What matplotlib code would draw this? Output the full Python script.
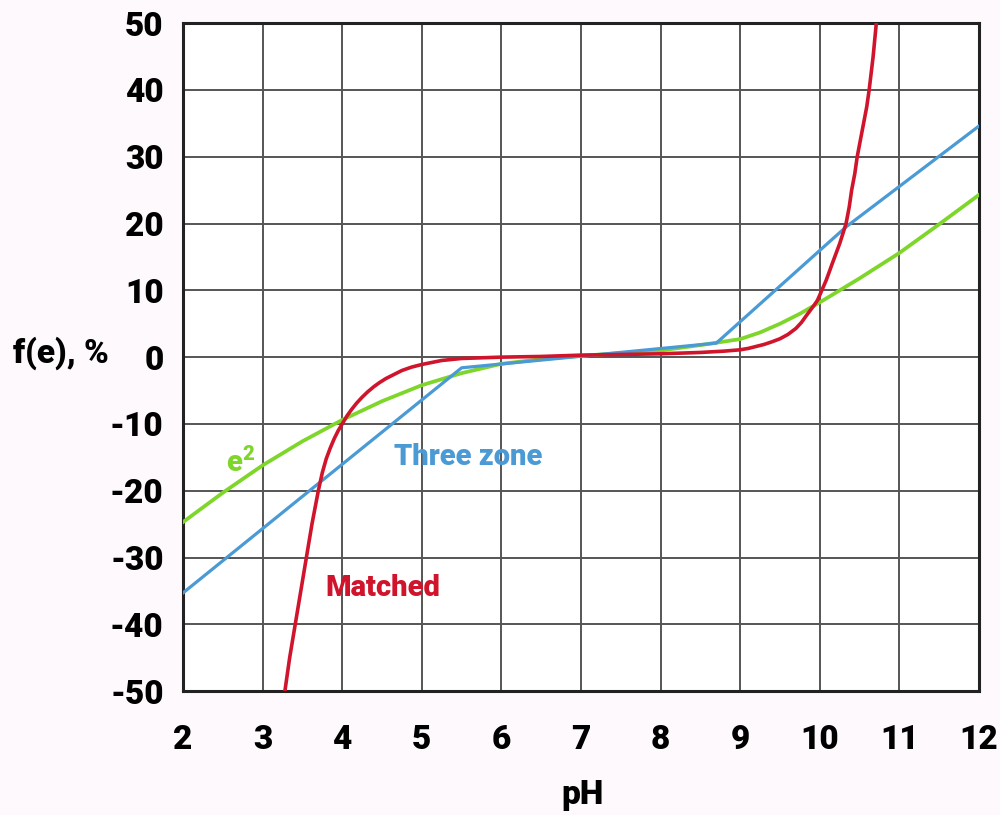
import matplotlib.pyplot as plt
import numpy as np

plt.rcParams['axes.unicode_minus'] = False

# Values (pH vs f(e), %)
three_zone_ph = [2.0, 5.5, 8.7, 10.33, 12.0]
three_zone_f = [-35.3, -1.6, 2.1, 19.5, 34.6]

e2_ph = [2, 2.5, 3, 3.5, 4, 4.5, 5, 5.5, 6, 6.5, 7, 7.5, 8, 8.5, 9, 9.25, 9.5, 9.75,
         10, 10.25, 10.5, 11, 11.5, 12]
e2_f = [-24.7, -20.3, -16.2, -12.6, -9.4, -6.6, -4.2, -2.4, -1.0, -0.3, 0.2, 0.6, 1.0,
        1.8, 2.7, 3.7, 5.0, 6.5, 8.2, 10.0, 11.8, 15.6, 19.9, 24.3]

matched_ph = [3.28, 3.34, 3.41, 3.48, 3.55, 3.62, 3.70, 3.75, 3.80, 3.85, 3.90, 3.95,
              4.00, 4.06, 4.12, 4.18, 4.25, 4.32, 4.40, 4.47, 4.55, 4.65, 4.75, 4.87,
              5.00, 5.25, 5.50, 6.00, 6.50, 7.00, 7.50, 8.00, 8.50, 8.80, 9.00, 9.10,
              9.20, 9.30, 9.40, 9.50, 9.60, 9.70, 9.77, 9.83, 9.88, 9.93, 9.97, 10.00,
              10.04, 10.08, 10.12, 10.15, 10.20, 10.25, 10.29, 10.33, 10.37, 10.40,
              10.44, 10.47, 10.51, 10.55, 10.59, 10.62, 10.67, 10.71]
matched_f = [-50, -45, -40, -35, -30, -25, -20, -17.3, -15.2, -13.6, -12.2, -11.0,
             -10, -8.8, -7.8, -6.9, -6.0, -5.2, -4.4, -3.8, -3.2, -2.6, -2.0, -1.5,
             -1.1, -0.5, -0.2, 0.0, 0.1, 0.3, 0.4, 0.5, 0.7, 0.9, 1.1, 1.3,
             1.6, 1.9, 2.3, 2.75, 3.4, 4.3, 5.2, 6.2, 7.0, 7.8, 8.5, 9.3,
             10.4, 11.5, 12.8, 13.8, 15.4, 17.0, 18.5, 20.0, 22.5, 25.0,
             27.5, 30.0, 32.5, 35.0, 37.5, 40.0, 45.0, 50.0]

x_ticks = list(range(2, 13))
y_ticks = list(range(-50, 51, 10))

red = '#d0142c'
blue = '#4a9ad6'
green = '#7fd62a'
font = ['Roboto', 'DejaVu Sans']

fig = plt.figure(figsize=(10, 8.15), dpi=100)
fig.patch.set_facecolor('#fdf9fc')
ax = fig.add_axes((0.183, 0.152, 0.796, 0.8196))
ax.set_facecolor('white')

# Curves
ax.plot(e2_ph, e2_f, color=green, lw=2.7, zorder=3, solid_joinstyle='round')
ax.plot(three_zone_ph, three_zone_f, color=blue, lw=2.3, zorder=4)
ax.plot(matched_ph, matched_f, color=red, lw=2.6, zorder=5, solid_joinstyle='round')

# Curve labels
ax.text(5.58, -15.0, 'Three zone', color=blue, fontsize=21, fontweight='heavy',
        family=font, ha='center', va='center')
ax.text(4.51, -34.6, 'Matched', color=red, fontsize=21, fontweight='heavy',
        family=font, ha='center', va='center')
ax.text(2.72, -15.7, 'e$^{\\mathregular{2}}$', color=green, fontsize=21, fontweight='heavy',
        family=font, ha='center', va='center')

# Axes
ax.set_xlim(2, 12)
ax.set_ylim(-50, 50)
ax.set_xticks(x_ticks)
ax.set_yticks(y_ticks)
ax.grid(True, color='#555555', lw=1.4)
ax.set_axisbelow(True)
ax.tick_params(length=0)
ax.tick_params(axis='x', pad=24)
ax.tick_params(axis='y', pad=14)
for lab in ax.get_xticklabels() + ax.get_yticklabels():
    lab.set_family(font)
    lab.set_fontsize(24)
    lab.set_fontweight('heavy')
for s in ax.spines.values():
    s.set_linewidth(2.2)
    s.set_color('#222222')

ax.set_xlabel('pH', family=font, fontsize=24, fontweight='heavy', va='center')
ax.xaxis.set_label_coords(0.5025, -0.156)
ax.set_ylabel('f(e), %', family=font, fontsize=24, fontweight='heavy', rotation=0,
              ha='left', va='center')
ax.yaxis.set_label_coords(-0.2136, 0.506)

fig.savefig('out.png', dpi=100, facecolor=fig.get_facecolor())
